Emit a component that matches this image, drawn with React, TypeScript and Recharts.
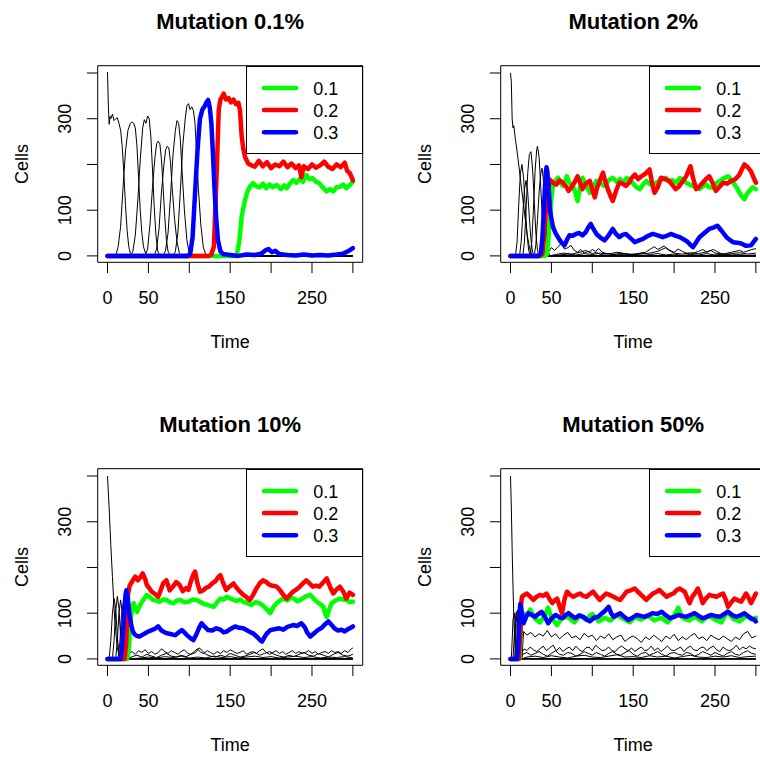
import React from 'react';
import { LineChart, Line, XAxis, YAxis, Legend } from 'recharts';

type Pt = [number, number];

const FONT = '"Liberation Sans", Arial, Helvetica, sans-serif';

const titles = ['Mutation 0.1%', 'Mutation 2%', 'Mutation 10%', 'Mutation 50%'];
const xTicks = [0, 50, 100, 150, 200, 250, 300];
const xTickLabels = [0, 50, 150, 250];
const yTicks = [0, 100, 200, 300, 400];
const yTickLabels = [0, 100, 300];
const seriesNames = ['0.1', '0.2', '0.3'];
const seriesColors = ['#00FF00', '#FF0000', '#0000FF'];

// ---------- Panel 1: Mutation 0.1% ----------
const p1Black: Pt[][] = [
  [[0,402],[1,330],[2,288],[3,305],[4,300],[6,310],[8,296],[10,300],[12,302],[14,290],[16,275],[18,239],[20,180],[22,110],[24,55],[26,20],[28,5],[30,0],[300,0]],
  [[0,0],[10,0],[13,20],[16,64],[19,150],[22,230],[25,275],[28,290],[30,293],[32,290],[34,280],[36,240],[38,170],[40,100],[42,50],[44,20],[47,3],[50,0],[300,0]],
  [[0,0],[28,0],[31,10],[34,45],[37,120],[40,210],[43,280],[45,298],[47,290],[49,306],[51,300],[53,260],[55,190],[57,110],[59,50],[61,15],[63,2],[65,0],[300,0]],
  [[0,0],[46,0],[49,15],[52,70],[55,150],[58,215],[60,245],[62,251],[64,245],[66,210],[68,150],[70,85],[72,35],[74,10],[77,0],[300,0]],
  [[0,0],[57,0],[60,15],[63,60],[66,140],[69,200],[71,232],[73,240],[75,236],[77,205],[79,150],[82,80],[85,30],[88,5],[90,0],[300,0]],
  [[0,0],[68,0],[71,12],[74,50],[77,130],[80,220],[83,275],[85,296],[87,290],[89,255],[91,190],[94,100],[97,35],[100,5],[102,0],[300,0]],
  [[0,0],[80,0],[83,10],[86,50],[89,140],[92,240],[95,300],[97,328],[99,333],[101,320],[103,326],[105,318],[107,290],[109,220],[111,150],[114,70],[117,20],[120,3],[123,0],[300,0]],
];
const p1Green: Pt[] = [[0,0],[155,0],[158,2],[161,30],[164,86],[168,122],[171,140],[174,151],[178,159],[182,152],[186,150],[190,158],[194,148],[198,156],[202,150],[207,155],[212,146],[216,154],[219,148],[223,158],[227,166],[231,160],[235,168],[239,162],[243,177],[247,168],[251,170],[255,162],[259,159],[263,150],[268,141],[272,146],[276,141],[280,150],[284,151],[288,156],[292,148],[296,155],[300,162]];
const p1Red: Pt[] = [[0,0],[124,0],[127,3],[130,20],[132,110],[134,210],[136,320],[138,342],[140,348],[142,355],[145,342],[148,345],[151,336],[154,342],[157,332],[160,335],[162,318],[164,262],[166,235],[168,217],[172,202],[176,198],[180,195],[185,208],[190,196],[195,205],[200,192],[205,200],[210,196],[215,206],[220,194],[225,202],[230,192],[234,198],[237,172],[240,196],[245,190],[250,200],[255,193],[260,198],[265,206],[270,195],[275,190],[280,200],[285,194],[290,204],[293,186],[296,182],[300,165]];
const p1Blue: Pt[] = [[0,0],[98,0],[101,4],[104,40],[107,137],[110,230],[113,300],[116,320],[119,328],[121,336],[123,341],[125,325],[127,290],[129,220],[131,140],[133,80],[135,35],[138,10],[141,4],[150,2],[160,0],[170,3],[180,2],[188,5],[193,12],[197,15],[201,8],[205,11],[210,4],[220,2],[230,1],[240,3],[250,1],[260,2],[270,1],[280,3],[288,5],[294,10],[300,17]];

// ---------- Panel 2: Mutation 2% ----------
const p2Black: Pt[][] = [
  [[0,400],[1,380],[2,300],[3,280],[4,285],[6,255],[9,215],[12,170],[15,125],[18,80],[21,40],[24,12],[27,0],[300,0]],
  [[0,0],[6,0],[8,30],[10,110],[12,180],[14,200],[16,170],[18,110],[20,50],[22,15],[24,0],[300,0]],
  [[0,0],[11,0],[13,30],[15,90],[17,145],[19,165],[21,140],[23,85],[25,35],[27,8],[29,0],[300,0]],
  [[0,0],[15,0],[17,30],[19,100],[21,180],[23,222],[25,228],[27,190],[29,120],[31,50],[33,12],[35,0],[300,0]],
  [[0,0],[24,0],[26,30],[28,100],[30,185],[32,232],[33,240],[35,215],[37,150],[39,80],[41,25],[43,0],[300,0]],
  [[0,0],[29,0],[31,25],[33,80],[35,140],[37,180],[38.5,192],[40,170],[42,110],[44,45],[46,10],[48,0],[300,0]],
  [[0,0],[44,0],[47,10],[50,18],[54,12],[58,20],[62,27],[66,15],[70,18],[74,23],[78,12],[82,8],[86,14],[90,6],[95,10],[100,5],[105,8],[110,3],[120,5],[130,2],[140,4],[150,2],[160,6],[170,3],[180,5],[190,2],[200,4],[210,1],[220,3],[230,2],[240,5],[250,2],[260,4],[270,2],[280,3],[290,1],[300,2]],
  [[0,0],[48,0],[55,3],[65,6],[75,4],[85,8],[92,12],[96,8],[100,14],[104,10],[108,16],[112,8],[118,5],[125,3],[135,6],[145,3],[155,5],[165,8],[172,16],[176,20],[180,14],[184,18],[188,22],[192,14],[196,10],[200,6],[210,4],[220,7],[230,5],[240,9],[248,14],[252,10],[256,6],[262,3],[270,5],[280,7],[290,4],[300,6]],
  [[0,0],[50,0],[60,2],[70,4],[80,2],[90,5],[100,3],[110,6],[120,4],[130,8],[140,5],[150,3],[160,4],[170,6],[180,10],[185,14],[190,18],[195,12],[200,8],[205,15],[210,10],[215,6],[220,4],[230,10],[235,14],[240,8],[245,12],[250,6],[260,4],[270,8],[280,12],[285,8],[290,11],[295,14],[300,16]],
];
const p2Green: Pt[] = [[0,0],[42,0],[44,2],[46,30],[48,84],[50,125],[52,156],[55,165],[58,171],[61,160],[64,153],[67,165],[69,174],[72,160],[76,153],[79,140],[82,120],[85,150],[88,171],[92,155],[97,138],[101,150],[105,164],[110,158],[115,153],[120,165],[125,171],[130,162],[134,168],[138,160],[142,170],[146,167],[150,158],[154,150],[158,146],[162,156],[166,164],[170,158],[174,153],[178,160],[182,164],[186,168],[190,171],[194,162],[198,166],[203,160],[207,170],[211,167],[215,160],[219,156],[223,153],[227,150],[231,146],[235,152],[239,156],[243,150],[247,149],[251,158],[256,164],[261,170],[266,174],[270,166],[274,156],[278,145],[282,132],[286,124],[289,135],[292,142],[296,150],[300,146]];
const p2Red: Pt[] = [[0,0],[36,0],[39,5],[41,40],[44,120],[46,150],[48,167],[52,160],[56,156],[60,165],[64,160],[68,152],[71,142],[74,149],[78,160],[82,174],[85,160],[88,146],[92,158],[97,164],[100,145],[103,128],[106,150],[110,168],[113,182],[116,162],[119,146],[122,132],[125,120],[129,142],[133,160],[137,158],[141,153],[145,160],[148,170],[152,178],[156,168],[160,174],[165,180],[170,189],[173,160],[176,138],[180,150],[184,171],[189,168],[194,164],[198,155],[202,146],[206,152],[211,164],[215,175],[218,188],[220,196],[223,172],[227,146],[231,152],[235,160],[239,168],[243,174],[247,160],[251,142],[255,150],[260,160],[265,158],[270,164],[275,168],[280,178],[283,190],[286,200],[290,194],[294,185],[297,172],[300,160]];
const p2Blue: Pt[] = [[0,0],[34,0],[37,5],[39,40],[41,110],[43,180],[44,194],[45,185],[47,140],[48,106],[50,80],[52,63],[55,50],[58,41],[62,30],[66,23],[69,35],[72,45],[76,44],[80,48],[84,50],[88,45],[92,52],[95,62],[98,70],[101,60],[105,48],[110,40],[115,34],[120,45],[125,59],[129,48],[133,41],[137,46],[141,48],[146,40],[152,30],[157,34],[162,37],[168,44],[174,48],[180,45],[186,41],[191,44],[196,48],[202,44],[207,41],[212,36],[217,30],[220,24],[223,19],[227,30],[231,41],[237,50],[243,59],[248,62],[253,66],[258,55],[264,41],[268,35],[272,30],[277,29],[282,27],[288,22],[294,23],[297,30],[300,37]];

// ---------- Panel 3: Mutation 10% ----------
const p3Black: Pt[][] = [
  [[0,400],[2,330],[4,250],[6,180],[8,110],[10,60],[12,25],[14,8],[16,0],[300,0]],
  [[0,0],[2,0],[4,40],[6,100],[8,132],[10,110],[12,50],[14,10],[16,0],[300,0]],
  [[0,0],[6,0],[8,40],[10,105],[12,137],[14,110],[16,50],[18,10],[20,0],[300,0]],
  [[0,0],[10,0],[12,40],[14,100],[16,129],[18,100],[20,45],[22,10],[24,0],[300,0]],
  [[0,0],[13,0],[15,35],[17,95],[19.5,126],[21,100],[23,50],[25,15],[27,0],[300,0]],
  [[0,0],[24,0],[27,12],[30,16],[34,10],[38,18],[42,14],[46,20],[50,12],[54,16],[58,10],[62,14],[66,22],[70,16],[74,12],[78,18],[82,14],[86,10],[90,16],[94,20],[98,12],[102,10],[106,16],[110,22],[114,14],[118,12],[122,18],[126,14],[130,10],[134,16],[138,12],[142,18],[146,14],[150,20],[154,16],[158,12],[162,14],[166,18],[170,10],[174,14],[178,16],[182,12],[186,18],[190,22],[194,14],[198,10],[202,14],[206,18],[210,12],[214,16],[218,10],[222,14],[226,18],[230,12],[234,16],[238,12],[242,14],[246,18],[250,12],[254,16],[258,10],[262,14],[266,16],[270,12],[274,18],[278,14],[282,16],[286,12],[290,18],[294,14],[298,22],[300,24]],
  [[0,0],[26,0],[30,5],[36,8],[42,4],[48,10],[54,6],[60,3],[66,8],[72,12],[78,6],[84,4],[90,8],[96,5],[102,10],[108,14],[112,24],[116,18],[120,10],[126,6],[132,4],[138,8],[144,5],[150,12],[156,8],[162,4],[168,6],[174,10],[180,14],[186,8],[192,12],[198,16],[204,10],[210,6],[216,4],[222,8],[228,5],[234,10],[240,14],[246,8],[252,6],[258,12],[264,8],[270,4],[276,10],[282,14],[288,8],[294,6],[300,10]],
  [[0,0],[28,0],[40,2],[50,4],[60,2],[70,5],[80,3],[90,6],[100,2],[110,4],[120,2],[130,6],[140,3],[150,5],[160,2],[170,4],[180,6],[190,3],[200,5],[210,2],[220,4],[230,6],[240,3],[250,5],[260,2],[270,4],[280,3],[290,5],[300,2]],
];
const p3Green: Pt[] = [[0,0],[24,0],[26,20],[28,80],[30,112],[32,122],[34,110],[36,103],[39,115],[42,125],[45,132],[48,140],[52,135],[56,129],[60,127],[64,125],[68,130],[72,129],[76,124],[81,122],[85,128],[89,129],[94,124],[99,125],[104,130],[109,129],[114,124],[118,120],[122,118],[126,116],[130,114],[134,124],[138,132],[142,130],[146,136],[150,132],[154,129],[158,127],[162,130],[166,125],[171,122],[176,118],[181,124],[186,122],[191,115],[195,108],[199,100],[203,114],[207,122],[211,128],[215,132],[220,128],[224,134],[228,132],[232,126],[236,129],[240,134],[244,138],[248,140],[252,132],[256,125],[260,120],[264,114],[266,100],[268,92],[271,108],[274,122],[279,128],[284,132],[288,130],[292,129],[296,124],[300,125]];
const p3Red: Pt[] = [[0,0],[21,0],[23,40],[25,140],[27,160],[29,166],[31,172],[34,180],[37,172],[40,178],[43,187],[46,175],[48,162],[51,155],[54,147],[58,142],[62,136],[65,150],[68,165],[72,172],[76,150],[80,158],[84,168],[88,162],[92,148],[96,155],[99,151],[102,170],[105,185],[107,191],[110,165],[113,147],[117,150],[120,155],[124,158],[128,165],[132,170],[135,178],[138,183],[141,168],[145,151],[149,158],[154,165],[158,155],[162,147],[166,140],[170,135],[174,129],[178,140],[182,154],[186,165],[190,172],[194,168],[198,162],[202,160],[207,158],[211,150],[215,140],[219,132],[223,140],[227,147],[231,152],[235,158],[239,165],[243,172],[247,165],[251,158],[255,160],[259,158],[263,166],[268,176],[272,158],[276,143],[280,152],[284,158],[288,148],[292,132],[296,145],[300,140]];
const p3Blue: Pt[] = [[0,0],[16,0],[18,30],[20,90],[22,140],[23,150],[25,130],[27,95],[29,74],[31,60],[33,54],[36,50],[39,49],[42,52],[46,56],[50,60],[54,63],[58,66],[62,71],[66,62],[70,58],[73,56],[78,54],[83,52],[87,58],[91,63],[94,58],[97,52],[101,46],[105,41],[109,55],[112,68],[115,78],[119,70],[123,63],[128,62],[133,67],[138,64],[142,58],[146,60],[151,66],[156,71],[161,68],[166,67],[171,62],[175,58],[178,56],[183,48],[187,40],[189,38],[192,48],[195,56],[199,63],[204,65],[210,67],[215,64],[220,70],[227,74],[232,72],[237,78],[241,70],[244,58],[248,49],[252,55],[257,63],[262,68],[266,76],[270,82],[274,74],[278,66],[282,62],[286,64],[290,60],[295,66],[300,71]];

// ---------- Panel 4: Mutation 50% ----------
const p4Black: Pt[][] = [
  [[0,400],[1,330],[2,240],[3,160],[4,95],[5,45],[6,15],[7,3],[8,0],[300,0]],
  [[0,0],[1,0],[2,40],[3,85],[4.5,100],[6,80],[7,40],[8,10],[9,0],[300,0]],
  [[0,0],[3,0],[4,30],[5.5,80],[7,103],[8.5,85],[9.5,40],[10.5,10],[11.5,0],[300,0]],
  [[0,0],[5,0],[6,35],[7,80],[8.5,107],[10,90],[11,50],[12,15],[13,0],[300,0]],
  [[0,0],[14,0],[16,60],[20,52],[25,58],[30,48],[35,55],[40,50],[45,62],[50,48],[55,55],[60,44],[65,52],[70,58],[75,46],[80,50],[85,42],[90,56],[95,48],[100,52],[105,40],[110,50],[115,45],[120,55],[125,42],[130,48],[135,52],[140,38],[145,46],[150,50],[155,44],[160,36],[165,48],[170,42],[175,52],[180,45],[185,38],[190,50],[195,44],[200,54],[205,40],[210,48],[215,42],[220,50],[225,56],[230,44],[235,48],[240,40],[245,52],[250,46],[255,42],[260,50],[265,44],[270,38],[275,48],[280,42],[285,55],[290,60],[295,46],[300,50]],
  [[0,0],[12,0],[14,15],[17,22],[20,18],[24,26],[28,20],[32,16],[36,22],[40,28],[44,18],[48,24],[52,30],[56,18],[60,25],[64,16],[68,22],[72,26],[76,18],[80,28],[84,20],[88,16],[92,24],[96,26],[100,18],[104,30],[108,24],[112,18],[116,20],[120,26],[124,18],[128,16],[132,24],[136,28],[140,22],[144,18],[148,24],[152,16],[156,22],[160,26],[164,18],[168,20],[172,28],[176,18],[180,24],[184,16],[188,22],[192,28],[196,20],[200,18],[204,22],[208,26],[212,16],[216,24],[220,28],[224,20],[228,18],[232,24],[236,26],[240,18],[244,24],[248,28],[252,20],[256,16],[260,26],[264,20],[268,18],[272,22],[276,30],[280,20],[284,26],[288,22],[292,28],[296,24],[300,22]],
  [[0,0],[12,0],[15,10],[20,14],[25,8],[30,12],[35,16],[40,10],[45,6],[50,12],[55,18],[60,10],[65,8],[70,14],[75,12],[80,6],[85,10],[90,16],[95,12],[100,8],[105,14],[110,10],[115,6],[120,12],[125,16],[130,10],[135,8],[140,14],[145,18],[150,10],[155,6],[160,12],[165,14],[170,8],[175,12],[180,16],[185,10],[190,6],[195,12],[200,14],[205,10],[210,8],[215,14],[220,12],[225,6],[230,10],[235,16],[240,12],[245,8],[250,14],[255,10],[260,6],[265,12],[270,16],[275,10],[280,8],[285,14],[290,18],[295,12],[300,10]],
  [[0,0],[14,0],[20,4],[30,6],[40,3],[50,7],[60,4],[70,2],[80,6],[90,8],[100,4],[110,3],[120,6],[130,9],[140,4],[150,5],[160,3],[170,7],[180,4],[190,6],[200,2],[210,5],[220,8],[230,4],[240,3],[250,6],[260,4],[270,7],[280,3],[290,5],[300,6]],
];
const p4Green: Pt[] = [[0,0],[11,0],[13,80],[15,100],[20,95],[24,108],[30,88],[36,80],[42,95],[46,112],[50,90],[57,74],[62,88],[70,92],[78,80],[85,95],[92,86],[100,98],[108,82],[115,90],[122,84],[130,96],[138,88],[146,80],[152,92],[160,86],[168,95],[176,84],[184,90],[192,80],[200,95],[205,112],[210,90],[218,84],[226,92],[234,82],[242,95],[250,86],[258,80],[265,104],[272,88],[280,82],[288,94],[295,86],[300,90]];
const p4Red: Pt[] = [[0,0],[10,0],[12,50],[13,120],[14,136],[17,140],[20,143],[24,136],[28,129],[32,136],[36,140],[40,138],[44,143],[48,130],[51,122],[54,128],[57,132],[60,115],[63,100],[66,130],[69,147],[73,140],[77,136],[81,140],[85,143],[89,138],[93,136],[97,142],[101,147],[105,138],[109,129],[113,136],[117,143],[121,140],[126,136],[130,132],[134,129],[138,138],[142,147],[147,150],[152,154],[155,148],[158,143],[162,136],[166,129],[170,136],[174,143],[178,146],[182,151],[186,144],[191,136],[195,140],[199,143],[203,150],[207,154],[210,150],[213,147],[216,134],[219,122],[222,135],[226,145],[229,154],[232,140],[235,122],[239,132],[243,140],[247,138],[252,136],[256,140],[260,143],[263,130],[266,114],[270,124],[274,132],[278,128],[282,125],[285,134],[288,143],[291,134],[294,122],[297,132],[300,143]];
const p4Blue: Pt[] = [[0,0],[8,0],[10,40],[11,100],[12,120],[14,100],[16,78],[19,92],[22,100],[26,96],[30,92],[34,98],[38,103],[42,92],[46,78],[50,88],[55,96],[59,92],[63,89],[67,95],[71,100],[75,94],[79,89],[84,95],[89,92],[93,86],[97,82],[102,90],[107,92],[112,100],[116,106],[120,114],[123,100],[126,92],[130,96],[134,100],[139,92],[144,85],[149,90],[154,96],[159,94],[164,92],[169,96],[174,100],[179,98],[185,103],[190,95],[195,89],[200,92],[205,96],[210,94],[215,92],[220,96],[225,100],[230,94],[235,89],[240,92],[245,96],[250,94],[256,92],[261,98],[266,103],[271,96],[276,92],[281,95],[286,100],[290,94],[294,89],[298,86],[300,82]];

const toData = (pts: Pt[]) => pts.map(([t, v]) => ({ t, v }));

const panels = [
  { title: titles[0], black: p1Black, colored: [p1Green, p1Red, p1Blue] },
  { title: titles[1], black: p2Black, colored: [p2Green, p2Red, p2Blue] },
  { title: titles[2], black: p3Black, colored: [p3Green, p3Red, p3Blue] },
  { title: titles[3], black: p4Black, colored: [p4Green, p4Red, p4Blue] },
];

const renderXTick = (props: any) => {
  const { x, y, payload } = props;
  if (!xTickLabels.includes(payload.value)) return <g />;
  return (
    <text x={x} y={y + 31.2} textAnchor="middle" fontSize={18} fontFamily={FONT} fill="#000">
      {payload.value}
    </text>
  );
};

const renderYTick = (props: any) => {
  const { y, payload } = props;
  if (!yTickLabels.includes(payload.value)) return <g />;
  const bx = 71;
  return (
    <text
      x={bx}
      y={y}
      transform={`rotate(-90, ${bx}, ${y})`}
      textAnchor="middle"
      fontSize={18}
      fontFamily={FONT}
      fill="#000"
    >
      {payload.value}
    </text>
  );
};

const TimeText = () => (
  <text x={230.2} y={347.5} textAnchor="middle" fontSize={18} fontFamily={FONT} fill="#000">
    Time
  </text>
);

const CellsText = ({ title }: { title: string }) => (
  <g>
    <text x={230.2} y={29.3} textAnchor="middle" fontSize={22} fontWeight="bold" fontFamily={FONT} fill="#000">
      {title}
    </text>
    <text
      x={27.5}
      y={164}
      transform="rotate(-90, 27.5, 164)"
      textAnchor="middle"
      fontSize={18}
      fontFamily={FONT}
      fill="#000"
    >
      Cells
    </text>
  </g>
);

const LegendBox = () => (
  <div
    style={{
      width: 117,
      height: 88.5,
      border: '1px solid #000',
      boxSizing: 'border-box',
      background: '#fff',
      position: 'relative',
    }}
  >
    <svg width={117} height={88} style={{ position: 'absolute', left: -1, top: -1, overflow: 'visible' }}>
      {seriesNames.map((n, i) => {
        const cy = 22 + 22.1 * i;
        return (
          <g key={n}>
            <line x1={18} x2={50} y1={cy} y2={cy} stroke={seriesColors[i]} strokeWidth={4.5} strokeLinecap="round" />
            <text x={67.3} y={cy + 6.5} fontSize={18} fontFamily={FONT} fill="#000">
              {n}
            </text>
          </g>
        );
      })}
    </svg>
  </div>
);

function Panel({ title, black, colored }: { title: string; black: Pt[][]; colored: Pt[][] }) {
  return (
    <LineChart width={403} height={403} margin={{ top: 64.7, right: 39.3, bottom: 90.7, left: 47.7 }}>
      <XAxis
        xAxisId="b"
        type="number"
        dataKey="t"
        domain={[-12, 312]}
        ticks={xTicks}
        interval={0}
        allowDataOverflow
        tick={renderXTick}
        tickSize={10.8}
        tickMargin={0}
        tickLine={{ stroke: '#000', strokeWidth: 1 }}
        axisLine={{ stroke: '#000', strokeWidth: 1 }}
        height={50}
        label={<TimeText />}
      />
      <XAxis
        xAxisId="top"
        orientation="top"
        type="number"
        dataKey="t"
        domain={[-12, 312]}
        allowDataOverflow
        ticks={[0]}
        tick={false}
        tickLine={false}
        axisLine={{ stroke: '#000', strokeWidth: 1 }}
        height={1}
      />
      <YAxis
        yAxisId="l"
        type="number"
        domain={[-14, 416]}
        ticks={yTicks}
        interval={0}
        allowDataOverflow
        tick={renderYTick}
        tickSize={10.8}
        tickMargin={0}
        tickLine={{ stroke: '#000', strokeWidth: 1 }}
        axisLine={{ stroke: '#000', strokeWidth: 1 }}
        width={50}
        label={<CellsText title={title} />}
      />
      <YAxis
        yAxisId="r"
        orientation="right"
        type="number"
        domain={[-14, 416]}
        allowDataOverflow
        ticks={[0]}
        tick={false}
        tickLine={false}
        axisLine={{ stroke: '#000', strokeWidth: 1 }}
        width={1}
      />
      {black.map((s, i) => (
        <Line
          key={`k${i}`}
          xAxisId="b"
          yAxisId="l"
          data={toData(s)}
          dataKey="v"
          type="linear"
          stroke="#000"
          strokeWidth={1}
          dot={false}
          activeDot={false}
          isAnimationActive={false}
          legendType="none"
        />
      ))}
      {colored.map((s, i) => (
        <Line
          key={`c${i}`}
          name={seriesNames[i]}
          xAxisId="b"
          yAxisId="l"
          data={toData(s)}
          dataKey="v"
          type="linear"
          stroke={seriesColors[i]}
          strokeWidth={4.5}
          strokeLinejoin="round"
          strokeLinecap="round"
          dot={false}
          activeDot={false}
          isAnimationActive={false}
        />
      ))}
      <Legend
        layout="vertical"
        align="center"
        verticalAlign="middle"
        content={() => <LegendBox />}
        wrapperStyle={{ position: 'absolute', left: 246, top: 65.5, width: 117, height: 88.5, margin: 0, padding: 0 }}
      />
    </LineChart>
  );
}

export default function App() {
  return (
    <div
      style={{
        position: 'absolute',
        left: 0,
        top: 0,
        width: 760,
        height: 760,
        overflow: 'hidden',
        background: '#fff',
      }}
    >
      {panels.map((p, i) => (
        <div
          key={p.title}
          style={{ position: 'absolute', left: (i % 2) * 403, top: Math.floor(i / 2) * 403, width: 403, height: 403 }}
        >
          <Panel title={p.title} black={p.black} colored={p.colored} />
        </div>
      ))}
    </div>
  );
}
